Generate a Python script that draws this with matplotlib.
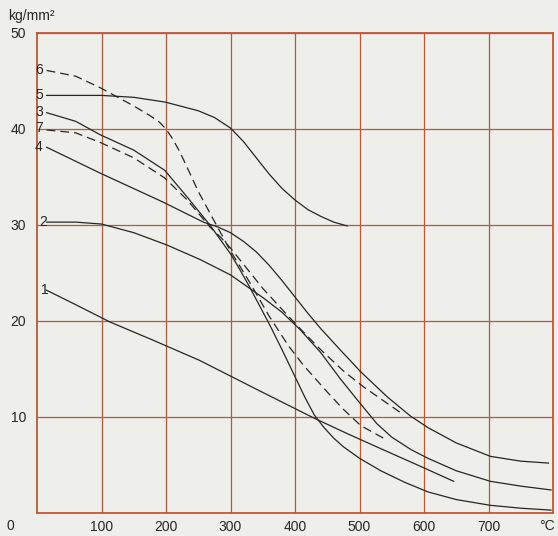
import matplotlib
matplotlib.use("Agg")
import matplotlib.pyplot as plt

plt.rcParams['font.family'] = ['Liberation Sans', 'DejaVu Sans']

# Temperatur (°C) und Festigkeit (kg/mm²)
t1 = [15, 60, 113, 180, 252, 340, 429, 480, 533, 590, 646]
s1 = [23.2, 21.7, 19.9, 18.0, 15.9, 12.9, 9.9, 8.3, 6.7, 5.0, 3.3]

t2 = [15, 60, 100, 150, 202, 253, 300, 351, 380, 408, 440, 470, 500, 527, 550, 580, 606, 650, 703, 750, 797]
s2 = [30.3, 30.3, 30.1, 29.2, 27.9, 26.4, 24.8, 22.4, 20.9, 19.1, 16.7, 14.0, 11.5, 9.3, 7.9, 6.6, 5.7, 4.4,
      3.3, 2.8, 2.4]

t3 = [15, 60, 98, 150, 198, 233, 268, 300, 315, 330, 345, 360, 380, 400, 415, 430, 445, 460, 475, 500,
      533, 570, 606, 650, 703, 750, 797]
s3 = [41.7, 40.8, 39.4, 37.8, 35.7, 32.9, 30.0, 27.0, 25.3, 23.5, 21.6, 19.7, 17.0, 14.2, 12.1, 10.2, 8.9,
      7.8, 6.9, 5.7, 4.4, 3.2, 2.2, 1.4, 0.8, 0.5, 0.3]

t4 = [15, 98, 195, 258, 280, 300, 320, 340, 360, 380, 400, 420, 440, 470, 502, 543, 579, 606, 650, 703, 750, 793]
s4 = [38.1, 35.4, 32.4, 30.3, 29.8, 29.2, 28.3, 27.2, 25.8, 24.2, 22.5, 20.8, 19.2, 17.0, 14.7, 12.1, 10.1,
      8.9, 7.3, 5.9, 5.4, 5.2]

t5 = [15, 100, 150, 199, 250, 275, 300, 320, 340, 360, 380, 400, 420, 440, 460, 481]
s5 = [43.5, 43.5, 43.3, 42.8, 41.9, 41.2, 40.1, 38.7, 37.0, 35.3, 33.8, 32.6, 31.6, 30.9, 30.3, 29.9]

t6 = [15, 60, 98, 150, 175, 190, 200, 210, 220, 230, 250, 270, 300, 330, 360, 390, 413, 450, 475, 502, 537]
s6 = [46.1, 45.5, 44.3, 42.4, 41.4, 40.7, 40.0, 39.0, 37.8, 36.4, 33.5, 31.0, 27.3, 24.0, 20.5, 17.4, 15.4,
      12.6, 10.8, 9.1, 7.8]

t7 = [15, 60, 98, 150, 198, 233, 268, 285, 300, 325, 350, 380, 408, 440, 475, 505, 537, 567]
s7 = [39.9, 39.6, 38.6, 37.0, 34.9, 32.6, 29.8, 28.7, 27.6, 25.5, 23.4, 21.2, 19.2, 17.0, 14.8, 13.2, 11.7, 10.3]

x_ticks = [100, 200, 300, 400, 500, 600, 700]
y_ticks = [10, 20, 30, 40, 50]

paper = '#eeeeea'
grid_red = '#b65a3e'
ink = '#262626'

fig = plt.figure(figsize=(5.58, 5.36), dpi=100, facecolor=paper)
ax = fig.add_axes([37/558, 1 - 513/536, 516/558, 480/536])
ax.set_facecolor(paper)

for t, s in [(t1, s1), (t2, s2), (t3, s3), (t4, s4), (t5, s5)]:
    ax.plot(t, s, color=ink, lw=0.9)
for t, s in [(t6, s6), (t7, s7)]:
    ax.plot(t, s, color=ink, lw=0.9, dashes=(7, 4))

# Kurvennummern
labels = [('6', 3, 46.1), ('5', 3, 43.5), ('3', 3, 41.8), ('7', 3, 40.1),
          ('4', 3, 38.1), ('2', 9, 30.3), ('1', 12, 23.2)]
for txt, x, y in labels:
    ax.text(x, y, txt, fontsize=10, color=ink, ha='center', va='center')

ax.set_xlim(0, 800)
ax.set_ylim(0, 50)
ax.set_xticks(x_ticks)
ax.set_yticks(y_ticks)
ax.grid(True, color=grid_red, lw=0.9)
ax.set_axisbelow(True)
for sp in ax.spines.values():
    sp.set_color(grid_red)
    sp.set_linewidth(1.3)
ax.tick_params(length=0, labelsize=10, labelcolor=ink)
ax.tick_params(axis='x', pad=5)
ax.tick_params(axis='y', pad=8)

fig.text(10/558, 1 - 526/536, '0', fontsize=10, color=ink, ha='center', va='center')
fig.text(547/558, 1 - 526/536, '°C', fontsize=10, color=ink, ha='center', va='center')
fig.text(8/558, 1 - 16/536, 'kg/mm²', fontsize=10, color=ink, ha='left', va='center')

fig.savefig('out.png', dpi=100, facecolor=paper)
